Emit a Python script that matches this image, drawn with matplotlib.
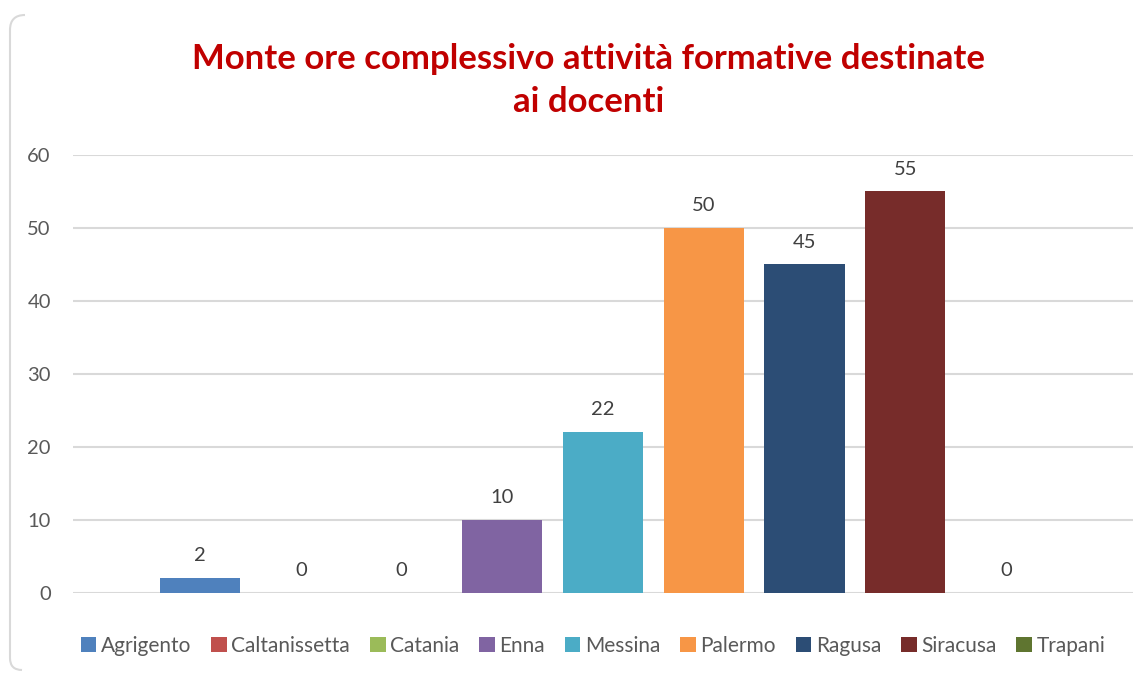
import matplotlib.pyplot as plt
from matplotlib.path import Path
from matplotlib.patches import PathPatch

# data
province = ['Agrigento', 'Caltanissetta', 'Catania', 'Enna', 'Messina',
            'Palermo', 'Ragusa', 'Siracusa', 'Trapani']
ore = [2, 0, 0, 10, 22, 50, 45, 55, 0]
colori = ['#4F81BD', '#C0504D', '#9BBB59', '#8064A2', '#4BACC6',
          '#F79646', '#2C4D75', '#772C2A', '#5F7530']
y_ticks = [0, 10, 20, 30, 40, 50, 60]

plt.rcParams['font.family'] = ['Lato', 'DejaVu Sans']

fig = plt.figure(figsize=(11.45, 6.73), dpi=100)
ax = fig.add_axes([0.0638, 0.1189, 0.9257, 0.6508])

# one category, one bar per province (like an Excel clustered chart)
for i, (nome, val, col) in enumerate(zip(province, ore, colori)):
    ax.bar(i, val, width=0.795, color=col, label=nome, zorder=3)
    ax.annotate(str(val), (i, val), xytext=(0, 10), textcoords='offset points',
                ha='center', va='bottom', fontsize=14.5, color='#404040')

ax.set_xlim(-1.26, len(province) - 1 + 1.26)
ax.set_ylim(0, 60)
ax.set_yticks(y_ticks)
ax.set_xticks([])
ax.grid(axis='y', color='#D9D9D9', linewidth=1.5, zorder=0)
for s in ax.spines.values():
    s.set_visible(False)
ax.tick_params(axis='y', length=0, pad=16, labelsize=14.5, labelcolor='#595959')

fig.text(0.514, 0.913, 'Monte ore complessivo attività formative destinate',
         ha='center', va='center', fontsize=25, fontweight='bold', color='#C00000')
fig.text(0.514, 0.849, 'ai docenti',
         ha='center', va='center', fontsize=25, fontweight='bold', color='#C00000')

leg = fig.legend(loc='center', bbox_to_anchor=(0.518, 0.04), ncol=9, frameon=False,
                 fontsize=15, handlelength=0.75, handleheight=0.75,
                 handletextpad=0.22, columnspacing=0.95, labelcolor='#595959')

# light rounded border on the left side (screenshot is cropped)
W, H = 1145, 673
verts = [(25, 15), (10, 15), (10, 30), (10, 658), (10, 670), (22, 670)]
codes = [Path.MOVETO, Path.CURVE3, Path.CURVE3, Path.LINETO, Path.CURVE3, Path.CURVE3]
verts = [(x / W, 1 - y / H) for x, y in verts]
fig.patches.append(PathPatch(Path(verts, codes), transform=fig.transFigure,
                             fill=False, edgecolor='#D9D9D9', linewidth=1.5))

fig.savefig('out.png', dpi=100)
